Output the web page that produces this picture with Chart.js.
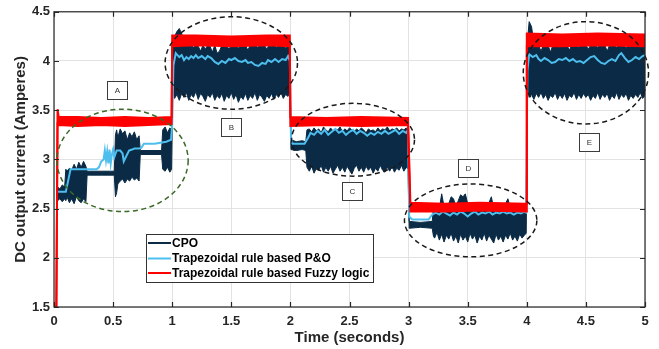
<!DOCTYPE html>
<html><head><meta charset="utf-8">
<script src="https://cdn.jsdelivr.net/npm/chart.js@4.4.1/dist/chart.umd.min.js"></script>
<style>html,body{margin:0;padding:0;background:#fff;}#wrap{width:659px;height:349px;}</style>
</head><body><div id="wrap"><canvas id="c" width="659" height="349"></canvas></div>
<script>
const seriesNames = ['CPO', 'Trapezoidal rule based P&O', 'Trapezoidal rule based Fuzzy logic'];
const xTickValues = [0, 0.5, 1, 1.5, 2, 2.5, 3, 3.5, 4, 4.5, 5];
const xTickLabels = ['0', '0.5', '1', '1.5', '2', '2.5', '3', '3.5', '4', '4.5', '5'];
const yTickValues = [1.5, 2, 2.5, 3, 3.5, 4, 4.5];
const yTickLabels = ['1.5', '2', '2.5', '3', '3.5', '4', '4.5'];
const annotationLabels = ['A', 'B', 'C', 'D', 'E'];

// CPO: noisy band (upper / lower envelope)
const cpoTime = [
 0.03,0.05,0.07,0.09,0.1,0.11,0.13,0.15,0.17,0.19,0.21,0.23,0.25,0.27,0.28,0.3,0.4,0.51,0.52,0.53,0.54,0.56,0.58,0.6,0.62,0.64,0.66,0.68,0.7,0.72,0.73,0.91,0.92,0.94,0.96,0.98,0.995,
 1.005,1.02,1.04,1.06,1.08,1.1,1.12,1.14,1.16,1.18,1.2,1.22,1.24,1.26,1.28,1.3,1.32,1.34,1.36,1.38,1.4,1.42,1.44,1.46,1.48,1.5,1.52,1.54,1.56,1.58,1.6,1.62,1.64,1.66,1.68,1.7,1.72,1.74,1.76,1.78,1.8,1.82,1.84,1.86,1.88,1.9,1.92,1.94,1.96,1.98,1.995,
 2.005,2.05,2.1,2.13,2.14,2.16,2.18,2.2,2.22,2.24,2.26,2.28,2.3,2.32,2.34,2.36,2.38,2.4,2.42,2.44,2.46,2.48,2.5,2.52,2.54,2.56,2.58,2.6,2.62,2.64,2.66,2.68,2.7,2.72,2.74,2.76,2.78,2.8,2.82,2.84,2.86,2.88,2.9,2.92,2.94,2.96,2.98,2.995,
 3.005,3.1,3.2,3.21,3.22,3.24,3.26,3.28,3.3,3.32,3.34,3.36,3.38,3.4,3.42,3.44,3.46,3.48,3.5,3.52,3.54,3.56,3.58,3.6,3.62,3.64,3.66,3.68,3.7,3.72,3.74,3.76,3.78,3.8,3.82,3.84,3.86,3.88,3.9,3.92,3.94,3.96,3.98,3.995,
 4.005,4.02,4.04,4.06,4.08,4.1,4.12,4.14,4.16,4.18,4.2,4.22,4.24,4.26,4.28,4.3,4.32,4.34,4.36,4.38,4.4,4.42,4.44,4.46,4.48,4.5,4.52,4.54,4.56,4.58,4.6,4.62,4.64,4.66,4.68,4.7,4.72,4.74,4.76,4.78,4.8,4.82,4.84,4.86,4.88,4.9,4.92,4.94,4.96,4.98,5.0
];
const cpoHigh = [
 2.72,2.7,2.74,2.72,2.9,2.88,2.91,2.89,2.95,2.9,2.97,2.92,2.98,2.93,2.88,2.88,2.88,2.88,3.25,3.3,3.22,3.31,3.26,3.29,3.2,3.27,3.23,3.28,3.2,3.24,3.09,3.09,3.3,3.33,3.27,3.32,3.3,
 4.2,4.25,4.3,4.33,4.28,4.2,4.16,4.15,4.16,4.14,4.16,4.15,4.1,4.16,4.12,4.16,4.15,4.09,4.16,4.08,4.1,4.16,4.15,4.16,4.12,4.16,4.15,4.16,4.13,4.16,4.15,4.16,4.11,4.16,4.15,4.16,4.14,4.16,4.15,4.16,4.12,4.16,4.15,4.16,4.14,4.16,4.15,4.16,4.13,4.16,4.15,
 3.2,3.18,3.19,3.18,3.3,3.31,3.28,3.32,3.29,3.31,3.27,3.33,3.3,3.28,3.32,3.29,3.31,3.3,3.33,3.28,3.31,3.29,3.32,3.3,3.28,3.31,3.29,3.32,3.3,3.27,3.31,3.29,3.3,3.28,3.32,3.29,3.31,3.3,3.33,3.29,3.31,3.3,3.32,3.29,3.31,3.3,3.32,3.3,
 2.37,2.36,2.37,2.5,2.5,2.52,2.5,2.65,2.52,2.5,2.55,2.62,2.6,2.52,2.58,2.64,2.62,2.65,2.55,2.5,2.53,2.5,2.52,2.5,2.54,2.5,2.52,2.56,2.62,2.5,2.52,2.5,2.53,2.5,2.55,2.6,2.51,2.5,2.53,2.5,2.52,2.5,2.52,2.5,
 4.2,4.4,4.35,4.18,4.15,4.16,4.1,4.16,4.15,4.16,4.09,4.16,4.15,4.16,4.14,4.16,4.15,4.16,4.11,4.16,4.15,4.16,4.14,4.16,4.15,4.16,4.12,4.16,4.15,4.16,4.14,4.16,4.15,4.16,4.1,4.16,4.15,4.16,4.14,4.16,4.15,4.16,4.13,4.16,4.15,4.16,4.14,4.16,4.15,4.16,4.15
];
const cpoLow = [
 2.58,2.6,2.57,2.6,2.58,2.62,2.56,2.6,2.55,2.62,2.58,2.56,2.6,2.57,2.84,2.84,2.84,2.84,2.62,2.66,2.75,2.78,2.8,2.76,2.8,2.78,2.82,2.79,2.81,2.78,3.05,3.05,2.9,2.88,2.92,2.87,2.9,
 3.7,3.62,3.66,3.6,3.67,3.63,3.68,3.6,3.66,3.63,3.69,3.61,3.67,3.64,3.59,3.66,3.63,3.68,3.6,3.65,3.62,3.67,3.59,3.65,3.62,3.68,3.61,3.66,3.58,3.64,3.61,3.67,3.6,3.65,3.62,3.68,3.6,3.66,3.63,3.59,3.65,3.62,3.67,3.61,3.66,3.63,3.68,3.62,3.66,3.64,3.7,
 3.1,3.09,3.1,3.09,2.92,2.88,2.93,2.86,2.91,2.89,2.94,2.87,2.92,2.88,2.93,2.86,2.9,2.94,2.88,2.92,2.87,2.93,2.89,2.85,2.91,2.94,2.88,2.92,2.87,2.93,2.89,2.92,2.86,2.91,2.88,2.94,2.89,2.87,2.92,2.88,2.93,2.87,2.91,2.89,2.94,2.88,2.92,2.9,
 2.3,2.31,2.3,2.22,2.2,2.26,2.18,2.24,2.16,2.23,2.19,2.25,2.17,2.22,2.15,2.24,2.18,2.22,2.16,2.25,2.19,2.23,2.15,2.22,2.18,2.25,2.17,2.23,2.19,2.15,2.24,2.18,2.22,2.16,2.23,2.19,2.25,2.18,2.22,2.17,2.24,2.2,2.23,2.25,
 3.7,3.63,3.66,3.61,3.67,3.63,3.68,3.62,3.66,3.6,3.65,3.63,3.68,3.61,3.66,3.62,3.67,3.6,3.65,3.63,3.68,3.61,3.66,3.62,3.67,3.63,3.66,3.6,3.65,3.62,3.68,3.61,3.66,3.63,3.67,3.6,3.65,3.62,3.68,3.61,3.66,3.63,3.67,3.6,3.65,3.62,3.66,3.63,3.68,3.62,3.65
];

// Trapezoidal rule based P&O
const poTime = [
 0.03,0.1,0.14,0.36,0.38,0.4,0.42,0.43,0.44,0.45,0.46,0.47,0.48,0.49,0.5,0.51,0.53,0.56,0.58,0.59,0.61,0.635,0.66,0.68,0.72,0.74,0.76,0.85,0.9,0.95,0.99,1.0,1.01,
 1.03,1.06,1.08,1.1,1.12,1.14,1.16,1.18,1.2,1.22,1.25,1.28,1.3,1.33,1.36,1.39,1.42,1.45,1.48,1.5,1.53,1.56,1.59,1.62,1.64,1.67,1.7,1.73,1.76,1.79,1.81,1.84,1.87,1.9,1.93,1.96,1.98,1.995,
 2.005,2.02,2.12,2.15,2.17,2.2,2.23,2.26,2.29,2.32,2.35,2.38,2.41,2.44,2.47,2.5,2.53,2.56,2.59,2.62,2.65,2.68,2.71,2.74,2.77,2.8,2.83,2.86,2.89,2.92,2.95,2.98,2.995,
 3.005,3.03,3.17,3.2,3.23,3.26,3.29,3.32,3.35,3.38,3.41,3.44,3.47,3.5,3.53,3.56,3.59,3.62,3.65,3.68,3.71,3.74,3.77,3.8,3.83,3.86,3.89,3.92,3.95,3.98,3.995,
 4.005,4.02,4.05,4.08,4.1,4.12,4.15,4.18,4.21,4.24,4.27,4.3,4.33,4.36,4.39,4.42,4.45,4.48,4.51,4.54,4.57,4.6,4.63,4.66,4.69,4.72,4.75,4.78,4.8,4.83,4.86,4.89,4.92,4.95,4.98,5.0
];
const poValue = [
 2.67,2.67,2.9,2.9,2.92,2.98,3.0,3.09,2.99,3.08,2.96,3.1,2.96,3.05,3.1,3.02,3.09,3.09,3.06,2.98,3.03,3.09,3.1,3.11,3.11,3.12,3.16,3.16,3.17,3.18,3.2,3.35,3.95,
 4.08,4.04,4.06,4.01,4.04,4.02,4.05,4.03,4.06,4.03,4.05,4.02,4.05,4.03,3.99,3.97,4.0,3.98,4.02,4.01,4.03,4.0,3.99,4.01,3.98,3.99,3.96,3.95,3.98,3.97,4.01,3.99,4.02,3.99,4.02,4.01,4.05,4.0,
 3.2,3.16,3.16,3.22,3.27,3.25,3.29,3.26,3.3,3.25,3.28,3.31,3.27,3.29,3.25,3.28,3.3,3.26,3.29,3.27,3.24,3.27,3.25,3.28,3.26,3.29,3.26,3.28,3.3,3.26,3.29,3.27,3.3,
 2.42,2.39,2.39,2.44,2.46,2.44,2.47,2.45,2.43,2.46,2.44,2.47,2.45,2.42,2.45,2.47,2.44,2.46,2.45,2.47,2.44,2.46,2.45,2.47,2.45,2.46,2.44,2.46,2.45,2.47,2.46,
 3.9,4.07,4.04,4.06,4.02,4.0,4.03,4.01,3.98,3.99,4.02,4.01,4.03,4.0,4.02,3.99,4.0,3.98,4.01,4.04,4.05,4.01,3.98,3.97,4.0,4.02,4.0,4.06,4.08,4.03,3.99,4.01,4.04,4.02,4.05,4.06
];

// Trapezoidal rule based Fuzzy logic: thick band (upper / lower edge)
const fuzzyTime = [0.02,0.03,0.04,0.2,0.4,0.6,0.8,0.995,1.0,1.2,1.5,1.8,1.995,2.0,2.3,2.6,2.995,3.015,3.3,3.6,3.995,4.0,4.3,4.6,5.0];
const fuzzyHigh = [1.5,3.51,3.43,3.43,3.42,3.43,3.42,3.43,4.26,4.26,4.25,4.26,4.26,3.43,3.42,3.43,3.42,2.56,2.55,2.56,2.55,4.28,4.27,4.28,4.27];
const fuzzyLow  = [1.5,3.36,3.35,3.34,3.35,3.34,3.35,3.36,4.15,4.16,4.15,4.16,4.15,3.34,3.35,3.34,3.35,2.47,2.47,2.48,2.47,4.15,4.15,4.16,4.15];

const NAVY = '#0a2a45', SKY = '#4dbeee', RED = '#ff0000';
const pts = (t, v) => t.slice(0, Math.min(t.length, v.length)).map((x, i) => ({x, y: v[i]}));

const ellipseSpecs = [
  {x:0.58, y:2.99, rx:0.555, ry:0.52, color:'#3a6a27'},
  {x:1.5, y:3.98, rx:0.56, ry:0.47, color:'#1a1a1a'},
  {x:2.53, y:3.2, rx:0.52, ry:0.37, color:'#1a1a1a'},
  {x:3.525, y:2.38, rx:0.56, ry:0.37, color:'#1a1a1a'},
  {x:4.5, y:3.88, rx:0.53, ry:0.52, color:'#1a1a1a'}
];
const labelSpots = [{x:0.534,y:3.71},{x:1.5,y:3.33},{x:2.517,y:2.68},{x:3.5,y:2.914},{x:4.525,y:3.177}];

const overlay = {
  id: 'overlay',
  afterDraw(chart) {
    const {ctx, chartArea: a, scales: {x, y}} = chart;
    ctx.save();
    ctx.lineWidth = 1.5;
    ctx.setLineDash([5, 3.5]);
    ellipseSpecs.forEach(e => {
      const cx = x.getPixelForValue(e.x), cy = y.getPixelForValue(e.y);
      const rx = x.getPixelForValue(e.x + e.rx) - cx, ry = cy - y.getPixelForValue(e.y + e.ry);
      ctx.strokeStyle = e.color;
      ctx.beginPath(); ctx.ellipse(cx, cy, rx, ry, 0, 0, Math.PI * 2); ctx.stroke();
    });
    ctx.setLineDash([]);
    ctx.font = "8px 'Liberation Sans', Arial, sans-serif";
    ctx.textAlign = 'center'; ctx.textBaseline = 'middle';
    labelSpots.forEach((p, i) => {
      const cx = Math.round(x.getPixelForValue(p.x)), cy = Math.round(y.getPixelForValue(p.y));
      ctx.fillStyle = '#fff'; ctx.fillRect(cx - 10, cy - 9, 20, 18);
      ctx.strokeStyle = '#3c3c3c'; ctx.lineWidth = 1;
      ctx.strokeRect(cx - 9.5, cy - 8.5, 20, 18);
      ctx.fillStyle = '#333'; ctx.fillText(annotationLabels[i], cx + 0.5, cy + 0.5);
    });
    ctx.strokeStyle = '#262626'; ctx.lineWidth = 1.2;
    ctx.strokeRect(a.left, a.top, a.right - a.left, a.bottom - a.top);
    ctx.beginPath();
    xTickValues.forEach(v => {
      const px = Math.round(x.getPixelForValue(v)) + 0.5;
      ctx.moveTo(px, a.bottom); ctx.lineTo(px, a.bottom - 5);
      ctx.moveTo(px, a.top); ctx.lineTo(px, a.top + 5);
    });
    yTickValues.forEach(v => {
      const py = Math.round(y.getPixelForValue(v)) + 0.5;
      ctx.moveTo(a.left, py); ctx.lineTo(a.left + 5, py);
      ctx.moveTo(a.right, py); ctx.lineTo(a.right - 5, py);
    });
    ctx.stroke();
    const lx = 146.5, ly = 234.5, lw = 227, lh = 48;
    ctx.fillStyle = '#fff'; ctx.fillRect(lx, ly, lw, lh);
    ctx.strokeStyle = '#333'; ctx.lineWidth = 1; ctx.strokeRect(lx, ly, lw, lh);
    const colors = [NAVY, SKY, RED];
    const rows = [243, 258.5, 273];
    ctx.font = "bold 12px 'Liberation Sans', Arial, sans-serif";
    ctx.textAlign = 'left'; ctx.textBaseline = 'middle';
    seriesNames.forEach((n, i) => {
      ctx.strokeStyle = colors[i]; ctx.lineWidth = 2;
      ctx.beginPath(); ctx.moveTo(148, rows[i]); ctx.lineTo(171, rows[i]); ctx.stroke();
      ctx.fillStyle = '#000'; ctx.fillText(n, 172, rows[i] + 0.5);
    });
    ctx.restore();
  }
};

Chart.defaults.font.family = "'Liberation Sans', Arial, sans-serif";
const tickFont = {size: 13, weight: 'bold'};
const titleFont = {size: 15, weight: 'bold'};

new Chart(document.getElementById('c'), {
  type: 'line',
  data: {
    datasets: [
      {label: seriesNames[2], data: pts(fuzzyTime, fuzzyHigh), borderColor: RED, borderWidth: 2, pointRadius: 0, fill: false, order: 0},
      {label: seriesNames[2] + ' low', data: pts(fuzzyTime, fuzzyLow), borderColor: RED, backgroundColor: RED, borderWidth: 2, pointRadius: 0, fill: '-1', order: 0},
      {label: seriesNames[1], data: pts(poTime, poValue), borderColor: SKY, borderWidth: 2, pointRadius: 0, fill: false, order: 1},
      {label: seriesNames[0], data: pts(cpoTime, cpoHigh), borderColor: NAVY, borderWidth: 1, pointRadius: 0, fill: false, order: 2},
      {label: seriesNames[0] + ' low', data: pts(cpoTime, cpoLow), borderColor: NAVY, backgroundColor: NAVY, borderWidth: 1, pointRadius: 0, fill: '-1', order: 2}
    ]
  },
  options: {
    responsive: false, animation: false, devicePixelRatio: 1, events: [],
    layout: {padding: {left: 0, right: 14, top: 10, bottom: 0}},
    plugins: {legend: {display: false}, tooltip: {enabled: false}},
    elements: {line: {tension: 0}},
    scales: {
      x: {
        type: 'linear', min: 0, max: 5,
        afterBuildTicks: s => { s.ticks = xTickValues.map(v => ({value: v})); },
        afterFit: s => { s.height = 42; },
        ticks: {callback: (v, i) => xTickLabels[i], font: tickFont, color: '#262626', padding: 7, maxRotation: 0, autoSkip: false},
        grid: {color: '#e2e2e2', drawTicks: false},
        border: {display: false},
        title: {display: true, text: 'Time (seconds)', font: titleFont, color: '#262626', padding: {top: 0, bottom: 2}}
      },
      y: {
        type: 'linear', min: 1.5, max: 4.5,
        afterBuildTicks: s => { s.ticks = yTickValues.map(v => ({value: v})); },
        afterFit: s => { s.width = 54; },
        ticks: {callback: (v, i) => yTickLabels[i], font: tickFont, color: '#262626', padding: 4, autoSkip: false},
        grid: {color: '#e2e2e2', drawTicks: false},
        border: {display: false},
        title: {display: true, text: 'DC output current (Amperes)', font: titleFont, color: '#262626', padding: {top: 12, bottom: 0}}
      }
    }
  },
  plugins: [overlay]
});
</script></body></html>
